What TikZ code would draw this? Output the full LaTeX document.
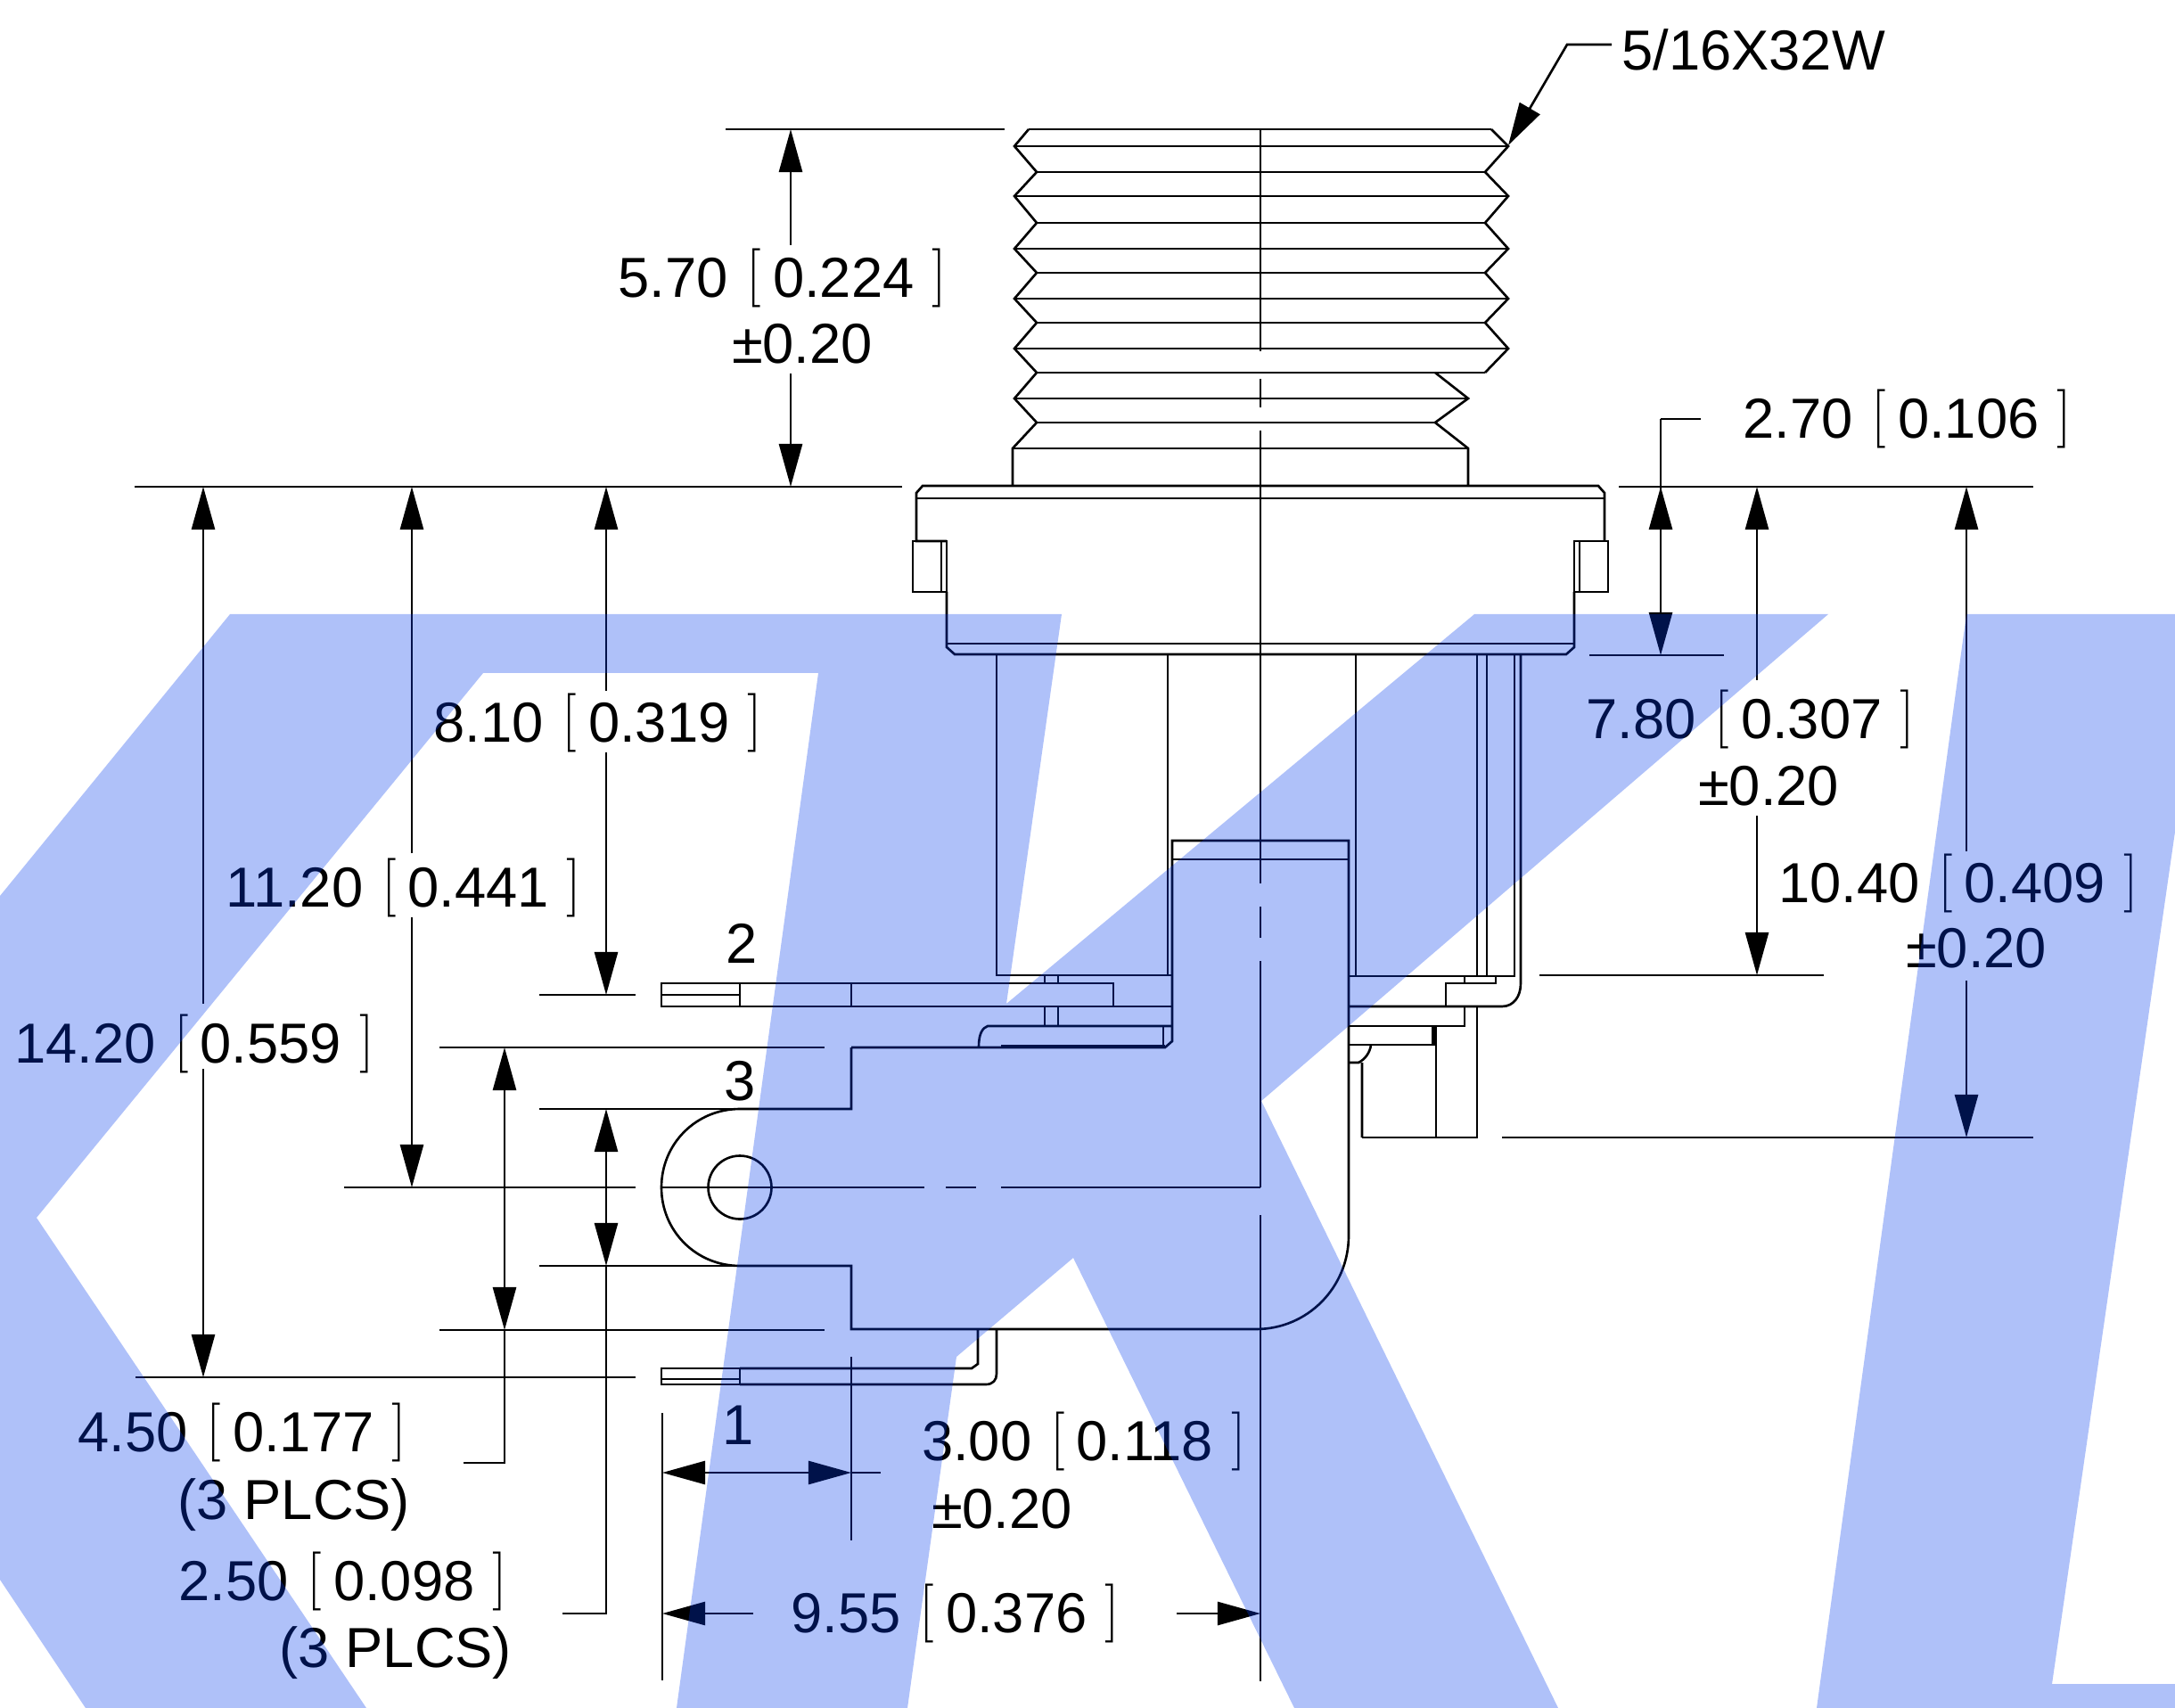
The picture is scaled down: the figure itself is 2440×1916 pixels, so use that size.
\documentclass[tikz,border=0pt]{standalone}
\usepackage{fontspec}
\setmainfont{Liberation Sans}
\newfontfamily\brkfam{Latin Modern Roman}
\usepackage{xcolor}
\usepackage{tikz}
\usetikzlibrary{arrows.meta}
\definecolor{markblue}{RGB}{0,58,239}
\newcommand{\brk}[1]{\raisebox{0.05cm}{\brkfam\fontsize{18.8}{22}\selectfont#1}}
\newcommand{\dimtxt}[2]{#1\hspace{.33em}\brk{[}\hspace{.2em}#2\hspace{.32em}\brk{]}}

\begin{document}
\begin{tikzpicture}[
      x=0.01cm, y=-0.01cm,
      line width=0.75pt,
      label/.style={inner sep=0pt,font=\fontsize{18}{21}\selectfont},
      arr/.style={-{Triangle[length=0.48cm,width=0.26cm]}},
      watermark/.style={fill=markblue,fill opacity=0.314,draw=none}
      ]
      \path[fill=white,use as bounding box] (0,0) rectangle (2440,1916);

      % thread
      \draw (1154,145) -- (1138,164) -- (1163,193) -- (1138,220) -- (1163,250) -- (1138,279) -- (1163,306) -- (1138,335) -- (1163,362) -- (1138,391) -- (1163,418) -- (1138,447) -- (1163,474) -- (1136,503) -- (1136,545);
      \draw (1673,145) -- (1692,164) -- (1666,193) -- (1692,220) -- (1666,250) -- (1692,279) -- (1666,306) -- (1692,335) -- (1666,362) -- (1692,391) -- (1666,418);
      \draw (1610,418) -- (1647,447) -- (1610,474) -- (1647,503) -- (1647,545);
      \draw (1154,145) -- (1673,145)
      (1138,164) -- (1692,164)
      (1163,193) -- (1666,193)
      (1138,220) -- (1692,220)
      (1163,250) -- (1666,250)
      (1138,279) -- (1692,279)
      (1163,306) -- (1666,306)
      (1138,335) -- (1692,335)
      (1163,362) -- (1666,362)
      (1138,391) -- (1692,391)
      (1163,418) -- (1666,418)
      (1138,447) -- (1647,447)
      (1163,474) -- (1610,474)
      (1136,503) -- (1647,503);

      % flange
      \draw (1062,664) -- (1062,726) -- (1071,734) -- (1757,734) -- (1766,726) -- (1766,664);
      \draw (1062,607) -- (1028,607) -- (1028,553) -- (1035,545) -- (1793,545) -- (1800,553) -- (1800,607);
      \draw (1028,559) -- (1800,559) (1062,722) -- (1766,722);
      \draw (1024,607) rectangle (1062,664) (1056,607) -- (1056,664);
      \draw (1766,607) rectangle (1804,664) (1772,607) -- (1772,664);

      % centre lines
      \draw (1414,145) -- (1414,394) (1414,425) -- (1414,457) (1414,483) -- (1414,991)
      (1414,1017) -- (1414,1052) (1414,1078) -- (1414,1332) (1414,1363) -- (1414,1886);
      \draw (742,1332) -- (1037,1332) (1061,1332) -- (1095,1332) (1123,1332) -- (1414,1332);

      % housing below flange
      \draw (1118,734) -- (1118,1094) -- (1315,1094) (1310,734) -- (1310,1094)
      (1521,734) -- (1521,1095) (1657,734) -- (1657,1095) (1668,734) -- (1668,1095);
      \draw (1513,1095) -- (1699,1095) -- (1699,734);
      \draw (1706,734) -- (1706,1103) .. controls (1706,1118) and (1698,1129) .. (1685,1129) -- (1513,1129);
      \draw (1622,1129) -- (1622,1103) -- (1678,1103) -- (1678,1095) (1643,1095) -- (1643,1103);
      \draw (1643,1129) -- (1643,1151) -- (1513,1151);
      \draw[line width=1.6pt] (1609,1151) -- (1609,1172);
      \draw (1513,1172) -- (1611,1172) -- (1611,1276) (1528,1276) -- (1657,1276) -- (1657,1129);
      \draw (1513,1192) -- (1524,1192) .. controls (1532,1188) and (1537,1180) .. (1538,1172) (1528,1192) -- (1528,1276);

      % body and solder tab 3
      \draw (1315,964) -- (1513,964);
      \draw (955,1175) -- (1307,1175) -- (1315,1168) -- (1315,943) -- (1513,943) -- (1513,1386) .. controls (1513,1444) and (1467,1491) .. (1409,1491) -- (955,1491) -- (955,1420) -- (830,1420) .. controls (781,1420) and (742,1381) .. (742,1332) .. controls (742,1283) and (781,1244) .. (830,1244) -- (955,1244) -- (955,1175);
      \draw (830,1332) circle[radius=35.5];

      % tab 2
      \draw (742,1103) rectangle (1249,1129) (1249,1129) -- (1315,1129)
      (830,1103) -- (830,1129) (955,1103) -- (955,1129) (742,1116) -- (830,1116);
      \draw (1172,1094) -- (1172,1103) (1187,1094) -- (1187,1103) (1172,1129) -- (1172,1151) (1187,1129) -- (1187,1151);
      \draw (1315,1151) -- (1108,1151) .. controls (1102,1153) and (1098,1160) .. (1098,1174);
      \draw[line width=1.4pt] (1123,1174) -- (1307,1174);
      \draw (1305,1151) -- (1305,1175);

      % tab 1
      \draw (830,1535) -- (742,1535) -- (742,1553) -- (830,1553) -- (830,1535) (742,1547) -- (830,1547);
      \draw (830,1535) -- (1090,1535) -- (1097,1530) -- (1097,1491);
      \draw (830,1553) -- (1106,1553) .. controls (1114,1553) and (1118,1548) .. (1118,1541) -- (1118,1491);

      % extension lines
      \draw (814,145) -- (1127,145)
      (151,546) -- (1012,546)
      (1816,546) -- (2281,546)
      (1783,735) -- (1934,735)
      (1727,1094) -- (2046,1094)
      (1685,1276) -- (2281,1276)
      (605,1116) -- (713,1116)
      (493,1175) -- (925,1175)
      (605,1244) -- (830,1244)
      (386,1332) -- (713,1332)
      (605,1420) -- (830,1420)
      (493,1492) -- (925,1492)
      (152,1545) -- (713,1545)
      (955,1522) -- (955,1728)
      (743,1585) -- (743,1885);

      % dimension arrows
      \draw[arr] (887,275) -- (887,145);
      \draw[arr] (887,419) -- (887,546);
      \draw[arr] (228,1126) -- (228,546);
      \draw[arr] (228,1199) -- (228,1545);
      \draw[arr] (462,957) -- (462,546);
      \draw[arr] (462,1029) -- (462,1332);
      \draw[arr] (680,775) -- (680,546);
      \draw[arr] (680,844) -- (680,1116);
      \draw[arr] (566,1330) -- (566,1175);
      \draw[arr] (566,1330) -- (566,1492);
      \draw (566,1492) -- (566,1641) -- (520,1641);
      \draw[arr] (680,1330) -- (680,1244);
      \draw[arr] (680,1330) -- (680,1420);
      \draw (680,1420) -- (680,1810) -- (631,1810);
      \draw (1863,470) -- (1908,470);
      \draw[arr] (1863,640) -- (1863,470) (1863,640) -- (1863,735);
      \draw[arr] (1863,640) -- (1863,546);
      \draw[arr] (1971,763) -- (1971,546);
      \draw[arr] (1971,915) -- (1971,1094);
      \draw[arr] (2206,955) -- (2206,546);
      \draw[arr] (2206,1100) -- (2206,1276);
      \draw[arr] (850,1652) -- (743,1652);
      \draw[arr] (850,1652) -- (955,1652);
      \draw (955,1652) -- (988,1652);
      \draw[arr] (845,1810) -- (743,1810);
      \draw[arr] (1320,1810) -- (1414,1810);
      \draw[arr] (1808,50) -- (1758,50) -- (1692,163);

      % texts
      \node[label] (thread) at (1967,56) {5/16X32W};
      \node[label] (d570) at (878,312) {\dimtxt{5.70}{0.224}};
      \node[label] (t570) at (900,386) {±0.20};
      \node[label] (d270) at (2140,470) {\dimtxt{2.70}{0.106}};
      \node[label] (d780) at (1964,807) {\dimtxt{7.80}{0.307}};
      \node[label] (t780) at (1984,882) {±0.20};
      \node[label] (d1040) at (2197,991) {\dimtxt{10.40}{0.409}};
      \node[label] (t1040) at (2217,1064) {±0.20};
      \node[label] (d810) at (671,811) {\dimtxt{8.10}{0.319}};
      \node[label] (d1120) at (453,996) {\dimtxt{11.20}{0.441}};
      \node[label] (d1420) at (218,1171) {\dimtxt{14.20}{0.559}};
      \node[label] (d450) at (272,1607) {\dimtxt{4.50}{0.177}};
      \node[label] (p450) at (330,1688) {(3 PLCS)};
      \node[label] (d250) at (385,1774) {\dimtxt{2.50}{0.098}};
      \node[label] (p250) at (444,1854) {(3 PLCS)};
      \node[label] (d300) at (1216,1617) {\dimtxt{3.00}{0.118}};
      \node[label] (t300) at (1124,1693) {±0.20};
      \node[label] (d955) at (1072,1810) {\dimtxt{9.55}{0.376}};
      \node[label] (pin1) at (828,1599) {1};
      \node[label] (pin2) at (832,1058) {2};
      \node[label] (pin3) at (830,1213) {3};

      % watermark letters
      \path[watermark] (258,689) -- (1191,689) -- (1129,1126) -- (1654,689) -- (2051,689) -- (1415,1235) -- (1748,1916) -- (1452,1916) -- (1204,1411) -- (1073,1522) -- (1018,1916) -- (759,1916) -- (918,755) -- (542,755) -- (41,1366) -- (411,1916) -- (96,1916) -- (0,1772) -- (0,1005) -- cycle;
      \path[watermark] (2206,689) -- (2440,689) -- (2440,933) -- (2302,1889) -- (2440,1889) -- (2440,1916) -- (2038,1916) -- cycle;
    \end{tikzpicture}
\end{document}
